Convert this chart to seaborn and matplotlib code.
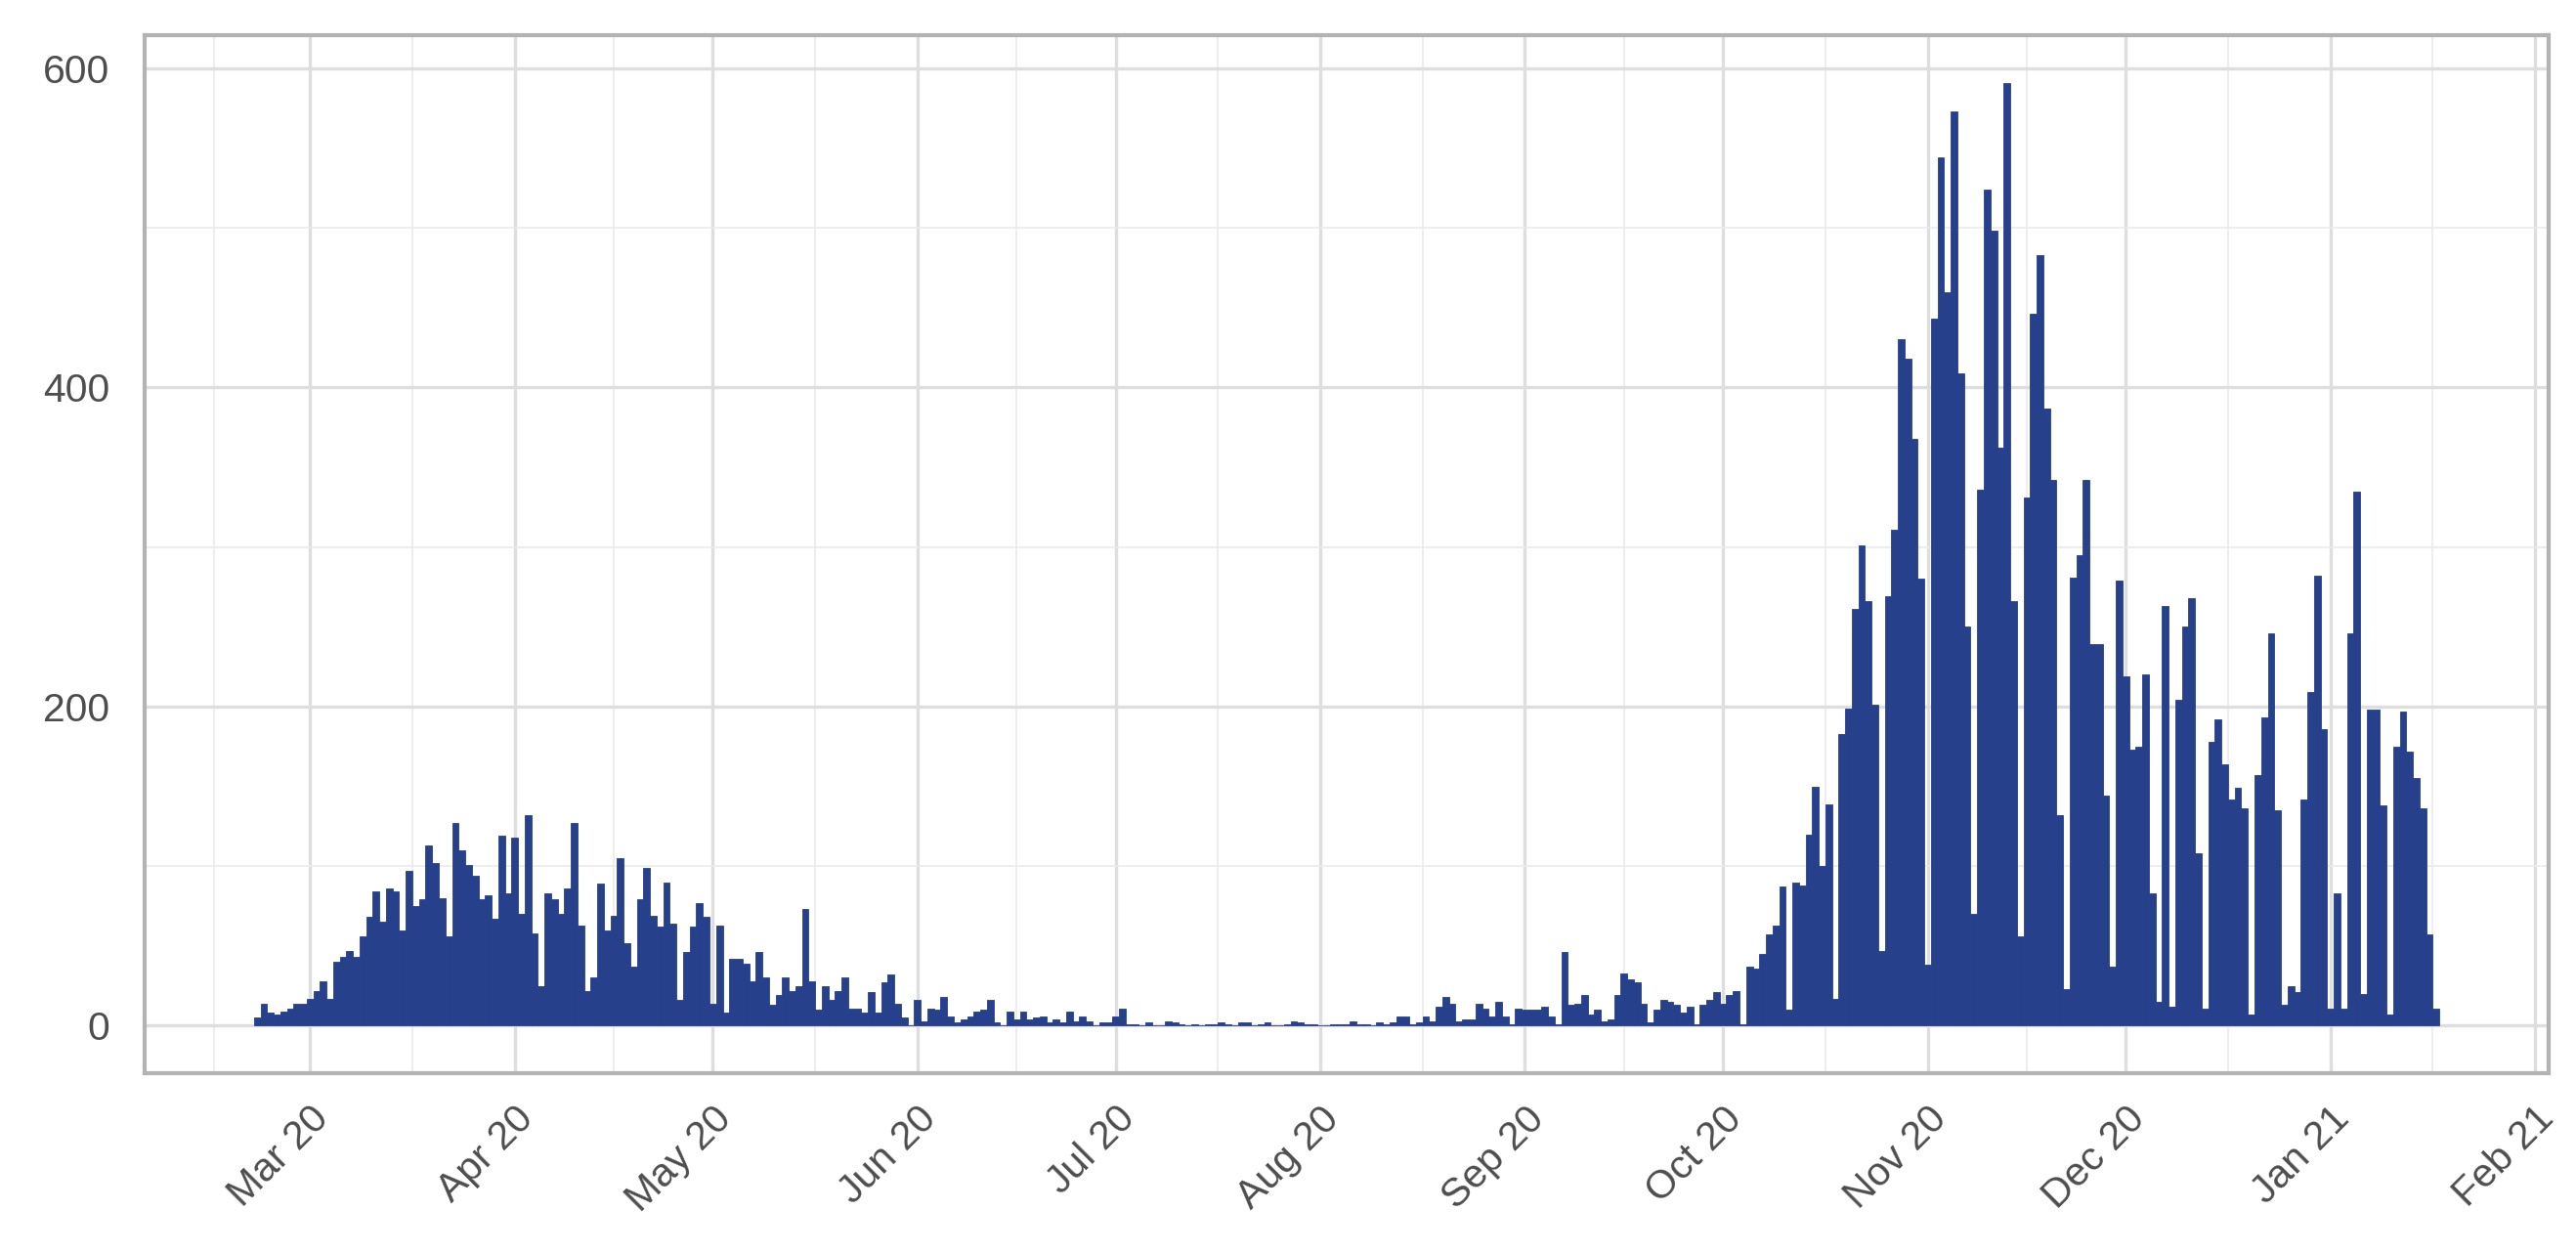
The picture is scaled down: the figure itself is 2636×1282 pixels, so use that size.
import pandas as pd
import matplotlib
matplotlib.use('Agg')
import matplotlib.pyplot as plt
import matplotlib.dates as mdates
from matplotlib.ticker import FixedLocator, MultipleLocator
import seaborn as sns

# daily counts, one list per month (first list starts on 22 Feb 2020)
feb20 = [5, 14, 8, 7, 9, 11, 14, 14]
mar20 = [17, 22, 28, 17, 40, 43, 47, 43, 56, 68, 84, 65, 86, 84, 60, 97,
         75, 79, 113, 102, 80, 56, 127, 110, 101, 94, 79, 82, 67, 119, 83]
apr20 = [118, 70, 132, 58, 25, 83, 79, 70, 86, 127, 63, 22, 30, 89, 60,
         69, 105, 52, 37, 79, 99, 69, 62, 90, 64, 16, 46, 62, 77, 68]
may20 = [14, 63, 8, 42, 42, 39, 28, 46, 30, 13, 19, 30, 22, 25, 73, 28,
         10, 25, 16, 22, 30, 11, 11, 8, 21, 8, 27, 32, 14, 5, 0]
jun20 = [16, 3, 11, 10, 18, 6, 2, 4, 6, 9, 10, 16, 2, 0, 9,
         4, 9, 4, 5, 6, 2, 4, 2, 9, 3, 6, 3, 0, 2, 2]
jul20 = [6, 11, 1, 1, 0, 2, 0, 0, 3, 2, 1, 0, 1, 0, 1, 1,
         2, 1, 0, 2, 2, 0, 1, 2, 0, 0, 1, 3, 2, 1, 1]
aug20 = [0, 0, 1, 1, 1, 3, 1, 1, 0, 2, 1, 2, 6, 6, 1, 2,
         6, 3, 12, 18, 14, 3, 4, 4, 14, 11, 6, 15, 6, 1, 11]
sep20 = [10, 10, 10, 12, 6, 1, 46, 13, 14, 19, 7, 10, 3, 4, 19,
         33, 29, 27, 14, 2, 10, 16, 15, 13, 8, 12, 1, 13, 16, 21]
oct20 = [14, 19, 22, 1, 37, 36, 45, 57, 63, 87, 10, 90, 88, 120, 150, 100,
         139, 17, 183, 199, 261, 301, 266, 201, 47, 269, 311, 430, 418, 368, 280]
nov20 = [38, 443, 544, 460, 573, 409, 250, 70, 336, 524, 498, 362, 591, 266, 56,
         331, 446, 483, 387, 342, 132, 23, 281, 295, 342, 239, 239, 144, 37, 279]
dec20 = [219, 173, 175, 220, 83, 15, 263, 12, 204, 250, 268, 108, 11, 178, 192, 164,
         142, 149, 136, 7, 157, 193, 246, 135, 13, 25, 21, 142, 209, 282, 186]
jan21 = [11, 83, 11, 246, 335, 20, 198, 198, 138, 7, 175, 197, 172, 155, 136, 57, 11]

month_starts = ['2020-02-22', '2020-03-01', '2020-04-01', '2020-05-01', '2020-06-01',
                '2020-07-01', '2020-08-01', '2020-09-01', '2020-10-01', '2020-11-01',
                '2020-12-01', '2021-01-01']
month_vals = [feb20, mar20, apr20, may20, jun20, jul20, aug20, sep20, oct20,
              nov20, dec20, jan21]

frames = []
for start, vals in zip(month_starts, month_vals):
    frames.append(pd.DataFrame({'date': pd.date_range(start, periods=len(vals), freq='D'),
                                'cases': vals}))
df = pd.concat(frames, ignore_index=True)
df['day'] = mdates.date2num(df['date'])

sns.set_theme(style='white')
plt.rcParams['font.family'] = ['Liberation Sans', 'DejaVu Sans']

fig = plt.figure(figsize=(2637 / 300, 1282 / 300), dpi=300)
ax = fig.add_axes([148 / 2637, 1 - 1097.7 / 1282, (2608 - 148) / 2637, (1097.7 - 36.4) / 1282])

bar_col = '#27408B'
sns.barplot(data=df, x='day', y='cases', native_scale=True, width=1,
            color=bar_col, saturation=1, errorbar=None,
            edgecolor=bar_col, linewidth=0.2, ax=ax)

# ggplot style expansion (5%)
lo, hi = df['day'].min() - 0.5, df['day'].max() + 0.5
pad = 0.05 * (hi - lo)
ax.set_xlim(lo - pad, hi + pad)
ymax = df['cases'].max()
ax.set_ylim(-0.05 * ymax, ymax * 1.05)

majors = mdates.date2num(pd.date_range('2020-02-01', '2021-02-01', freq='MS'))
ax.xaxis.set_major_locator(FixedLocator(majors[1:]))
ax.xaxis.set_minor_locator(FixedLocator((majors[:-1] + majors[1:]) / 2))
ax.xaxis.set_major_formatter(mdates.DateFormatter('%b %y'))
ax.yaxis.set_major_locator(MultipleLocator(200))
ax.yaxis.set_minor_locator(MultipleLocator(100))

ax.set_axisbelow(True)
ax.grid(which='major', color='#DEDEDE', linewidth=0.8)
ax.grid(which='minor', color='#EBEBEB', linewidth=0.4)
for s in ax.spines.values():
    s.set_color('#B3B3B3')
    s.set_linewidth(1.0)

ax.tick_params(which='major', length=3.6, width=0.8, color='#B3B3B3',
               labelcolor='#4D4D4D', labelsize=9.8)
ax.tick_params(axis='y', pad=5)
ax.tick_params(axis='x', pad=3)
ax.tick_params(which='minor', length=0)
plt.setp(ax.get_xticklabels(), rotation=45, ha='right', va='top', rotation_mode='anchor')
ax.set_xlabel('')
ax.set_ylabel('')

fig.savefig('out.png', dpi=300, facecolor='white')
